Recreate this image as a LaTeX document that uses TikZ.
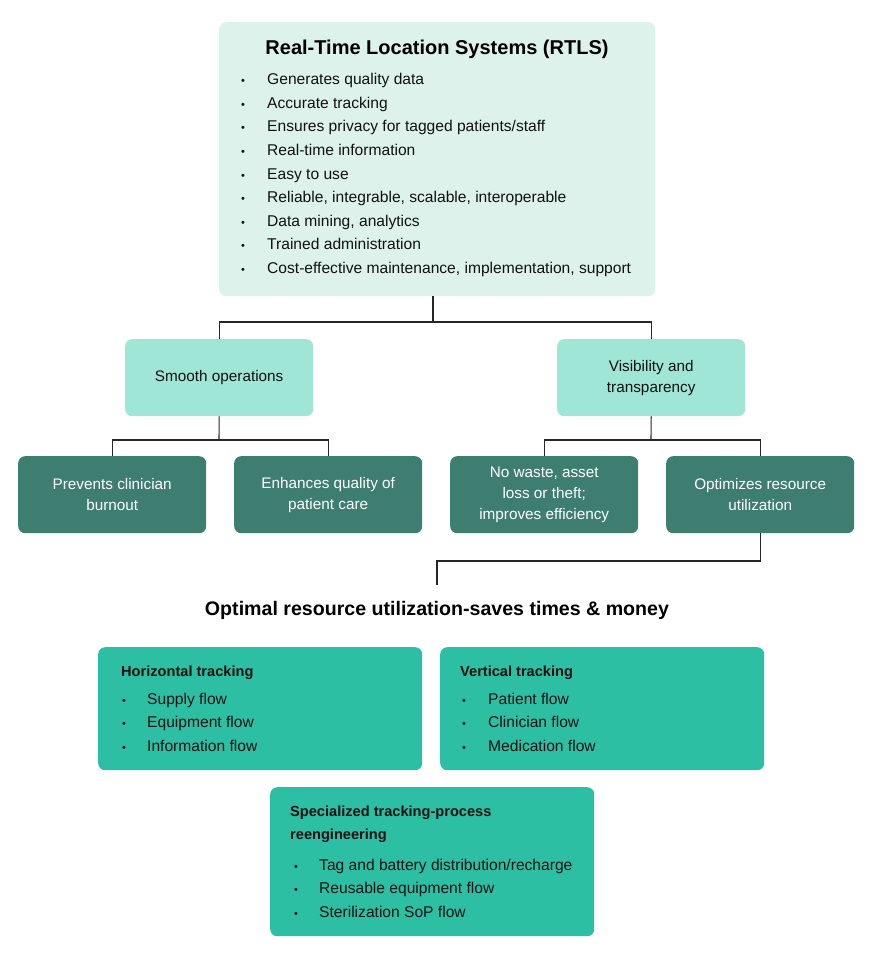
\documentclass[tikz,border=0pt]{standalone}
\usepackage{fontspec}
\setmainfont{Liberation Sans}
\usetikzlibrary{positioning}
\definecolor{topfill}{HTML}{DCF2EA}
\definecolor{midfill}{HTML}{9FE6D6}
\definecolor{darkfill}{HTML}{3E7E71}
\definecolor{botfill}{HTML}{2DBFA4}
\definecolor{txt}{HTML}{111111}
\begin{document}
\begin{tikzpicture}[x=1pt,y=-1pt,
  box/.style={draw=none,rounded corners=7pt,inner sep=0pt,anchor=north west},
  midbox/.style={box,fill=midfill,minimum width=188pt,minimum height=77pt,align=center,font=\fontsize{15.3}{21}\selectfont,text=txt},
  darkbox/.style={box,fill=darkfill,minimum width=188pt,minimum height=77pt,align=center,font=\fontsize{15.3}{21}\selectfont,text=white},
  botbox/.style={box,fill=botfill},
  item/.style={anchor=base west,inner sep=0pt,font=\fontsize{15.6}{18}\selectfont,text=txt},
  bul/.style={anchor=base,inner sep=0pt,font=\fontsize{11}{13}\selectfont,text=txt},
  head/.style={anchor=base west,inner sep=0pt,font=\bfseries\fontsize{14.6}{17}\selectfont,text=txt},
  conn/.style={draw=black!85,line width=1.1pt}]
\useasboundingbox (0,0) rectangle (871,960);

% top box
\node[box,fill=topfill,minimum width=436pt,minimum height=274pt] (top) at (219,22) {};
\node[anchor=base,inner sep=0pt,font=\bfseries\fontsize{20}{24}\selectfont,text=black] (toptitle) at (437,55) {Real-Time Location Systems (RTLS)};
\foreach \t [count=\i] in {Generates quality data,Accurate tracking,Ensures privacy for tagged patients/staff,Real-time information,Easy to use,{Reliable, integrable, scalable, interoperable},{Data mining, analytics},Trained administration,{Cost-effective maintenance, implementation, support}}{
  \node[bul] (tb\i) at (243,{80+5+(\i-1)*23.5}) {•};
  \node[item] (ti\i) at (267,{80+5+(\i-1)*23.5}) {\t};
}

% middle boxes
\node[midbox] (smooth) at (125,339) {Smooth operations};
\node[midbox] (vis) at (557,339) {Visibility and\\transparency};

% dark boxes
\node[darkbox] (prev) at (18,456) {Prevents clinician\\burnout};
\node[darkbox] (enh) at (234,456) {Enhances quality of\\patient care};
\node[darkbox] (waste) at (450,456) {No waste, asset\\loss or theft;\\improves efficiency};
\node[darkbox] (opt) at (666,456) {Optimizes resource\\utilization};

% connectors
\coordinate (j1) at (433,322);
\draw[conn] (top.south -| j1) -- (j1);
\draw[conn] (smooth.north) |- (j1) -| (vis.north);
\coordinate (j2) at (219,440);
\draw[conn] (smooth.south) -- (j2);
\draw[conn] (prev.north) |- (j2) -| (enh.north);
\coordinate (j3) at (651,440);
\draw[conn] (vis.south) -- (j3);
\draw[conn] (waste.north) |- (j3) -| (opt.north);

% heading
\node[anchor=base,inner sep=0pt,font=\bfseries\fontsize{19.6}{23}\selectfont,text=black] (mid) at (437,615) {Optimal resource utilization-saves times \& money};
\coordinate (j4) at (437,585);
\draw[conn] (opt.south) |- (437,561) -- (j4);

% bottom boxes
\node[botbox,minimum width=324pt,minimum height=123pt] (hor) at (98,647) {};
\node[head] (horh) at (121,676) {Horizontal tracking};
\foreach \t [count=\i] in {Supply flow,Equipment flow,Information flow}{
  \node[bul] (hb\i) at (124,{704+(\i-1)*23.5}) {•};
  \node[item] (hi\i) at (147,{704+(\i-1)*23.5}) {\t};
}
\node[botbox,minimum width=324pt,minimum height=123pt] (ver) at (440,647) {};
\node[head] (verh) at (460,676) {Vertical tracking};
\foreach \t [count=\i] in {Patient flow,Clinician flow,Medication flow}{
  \node[bul] (vb\i) at (464,{704+(\i-1)*23.5}) {•};
  \node[item] (vi\i) at (488,{704+(\i-1)*23.5}) {\t};
}
\node[botbox,minimum width=324pt,minimum height=149pt] (spec) at (270,787) {};
\node[head] (spech1) at (290,816) {Specialized tracking-process};
\node[head] (spech2) at (290,839) {reengineering};
\foreach \t [count=\i] in {Tag and battery distribution/recharge,Reusable equipment flow,Sterilization SoP flow}{
  \node[bul] (sb\i) at (296,{870+(\i-1)*23.5}) {•};
  \node[item] (si\i) at (319,{870+(\i-1)*23.5}) {\t};
}
\end{tikzpicture}
\end{document}
